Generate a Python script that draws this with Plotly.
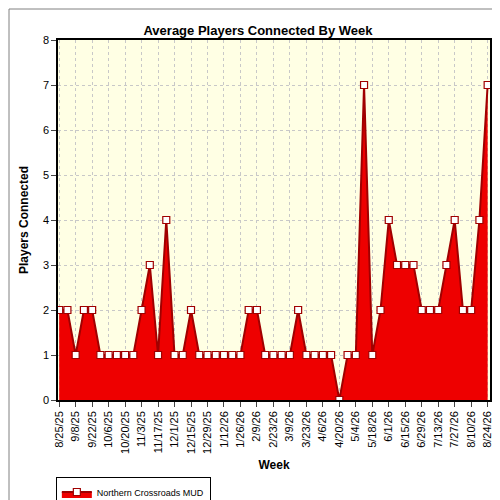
import plotly.graph_objects as go
import pandas as pd

weeks = pd.date_range("2025-08-25", periods=53, freq="7D")
players = [2,2,1,2,2,1,1,1,1,1,2,3,1,4,1,1,2,1,1,1,1,1,1,2,2,1,
           1,1,1,2,1,1,1,1,0,1,1,7,1,2,4,3,3,3,2,2,2,3,4,2,2,4,7]
tick_dates = weeks[::2]
tick_text = [f"{d.month}/{d.day}/{d.year%100}" for d in tick_dates]

W, H = 432, 360
fig = go.Figure()
fig.add_trace(go.Scatter(
    x=weeks, y=players, mode="lines+markers", fill="tozeroy",
    fillcolor="#EE0000", line=dict(color="#A00000", width=2),
    marker=dict(symbol="square", size=7, color="white", line=dict(color="#A00000", width=1.2)),
    name="Northern Crossroads MUD"))
fig.update_layout(
    width=500, height=500, paper_bgcolor="white", plot_bgcolor="#FFFFE4",
    margin=dict(l=50, r=18, t=32, b=108, autoexpand=False),
    title=dict(text="<b>Average Players Connected By Week</b>", x=0.5, y=0.965,
               font=dict(family="Arial, Liberation Sans", size=13, color="black")),
    font=dict(family="Arial, Liberation Sans", size=11, color="black"),
    showlegend=True,
    legend=dict(orientation="h", x=-0.005, y=-92/H, xanchor="left", yanchor="middle",
                bordercolor="black", borderwidth=1, font=dict(size=9),
                itemwidth=30, tracegroupgap=0),
    shapes=[dict(type="rect", xref="paper", yref="paper", x0=-49/W, x1=1+17/W,
                 y0=-107/H, y1=1+31/H, line=dict(color="gray", width=1))],
)
fig.update_xaxes(range=[weeks[0]-pd.Timedelta(days=1), weeks[-1]+pd.Timedelta(days=2)],
                 tickvals=tick_dates, ticktext=tick_text, tickangle=-90, automargin=False,
                 showgrid=True, gridcolor="#C8C8C8", griddash="dot",
                 showline=True, linecolor="black", mirror=True, linewidth=1.5,
                 ticks="outside", ticklen=5,
                 title=dict(text="<b>Week</b>", font=dict(size=12), standoff=8))
fig.update_yaxes(range=[0, 8], dtick=1, showgrid=True, gridcolor="#C8C8C8", griddash="dot",
                 showline=True, linecolor="black", mirror=True, linewidth=1.5, automargin=False,
                 ticks="outside", ticklen=5, zeroline=False,
                 title=dict(text="<b>Players Connected</b>", font=dict(size=12), standoff=12))
fig.write_html("out.html")
